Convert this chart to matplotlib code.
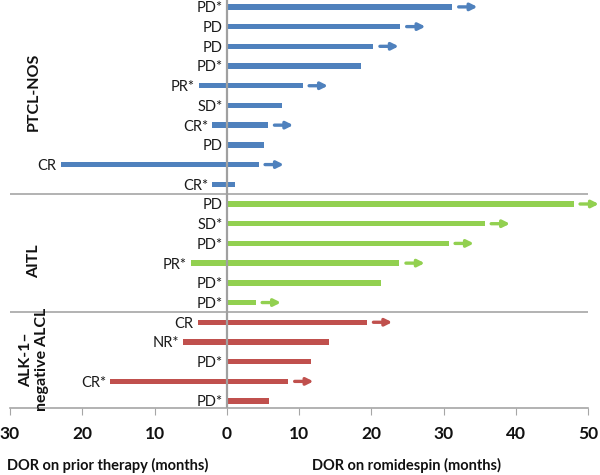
import numpy as np
import matplotlib
matplotlib.use('Agg')
import matplotlib.pyplot as plt
import matplotlib.transforms as mtransforms

plt.rcParams['font.family'] = ['Lato', 'DejaVu Sans']

# data (months)
groups = ['PTCL-NOS', 'AITL', 'ALK-1\u2013\nnegative ALCL']
group_sizes = [10, 6, 5]
group_colors = ['#4F81BD', '#92D050', '#C0504D']
responses = ['PD*', 'PD', 'PD', 'PD*', 'PR*', 'SD*', 'CR*', 'PD', 'CR', 'CR*',
             'PD', 'SD*', 'PD*', 'PR*', 'PD*', 'PD*',
             'CR', 'NR*', 'PD*', 'CR*', 'PD*']
prior = [0, 0, 0, 0, 3.9, 0, 2.0, 0, 23.0, 2.0,
         0, 0, 0, 5.0, 0, 0,
         4.0, 6.0, 0, 16.1, 0]
romi = [31.2, 24.0, 20.3, 18.6, 10.5, 7.6, 5.7, 5.2, 4.4, 1.2,
        48.0, 35.7, 30.7, 23.9, 21.4, 4.0,
        19.4, 14.2, 11.6, 8.5, 5.8]
ongoing = [1, 1, 1, 0, 1, 0, 1, 0, 1, 0,
           1, 1, 1, 1, 0, 1,
           1, 0, 0, 1, 0]
xticks = [-30, -20, -10, 0, 10, 20, 30, 40, 50]
xticklabels = ['30', '20', '10', '0', '10', '20', '30', '40', '50']

fig = plt.figure(figsize=(6, 4.75), dpi=100)
ax = fig.add_axes([10/600, 67/475, 578/600, 408/475])

rows = np.arange(len(romi))
colors = []
for c, n in zip(group_colors, group_sizes):
    colors += [c] * n

bh = 0.27
ax.barh(rows, romi, height=bh, color=colors, zorder=2)
ax.barh(rows, [-p for p in prior], height=bh, color=colors, zorder=2)

gap, alen = 0.9, 2.6
for i in rows:
    if ongoing[i]:
        ax.annotate('', xy=(romi[i] + gap + alen, i), xytext=(romi[i] + gap, i),
                    arrowprops=dict(arrowstyle='-|>,head_length=0.4,head_width=0.2',
                                    color=colors[i], lw=2.4, shrinkA=0, shrinkB=0),
                    annotation_clip=False, zorder=3)
    ax.annotate(responses[i], xy=(-prior[i], i), xytext=(-3, -1),
                textcoords='offset points', ha='right', va='center',
                fontsize=10.5, color='#1a1a1a')

# group separators and zero line
ax.axvline(0, color='#A0A0A0', lw=1.6, zorder=4)
for b in np.cumsum(group_sizes)[:-1]:
    ax.axhline(b - 0.5, color='#A6A6A6', lw=1.2, zorder=1)

# group names
trans = mtransforms.blended_transform_factory(ax.transAxes, ax.transData)
ycent = [4.3, 12.9, 17.9]
for g, y in zip(groups, ycent):
    ax.text(0.041, y, g, transform=trans, rotation=90, ha='center', va='center',
            fontsize=11.5, fontweight='bold', color='#111111', multialignment='center',
            linespacing=1.15)

ax.set_xlim(-30, 50)
ax.set_ylim(20.35, -0.35)
ax.set_xticks(xticks)
ax.set_xticklabels(xticklabels, fontsize=12.5, fontweight='bold', color='#111111')
ax.set_yticks([])
ax.tick_params(axis='x', direction='out', length=5, color='#A6A6A6', pad=8)
for s in ['top', 'right', 'left']:
    ax.spines[s].set_visible(False)
ax.spines['bottom'].set_color('#A6A6A6')
ax.spines['bottom'].set_linewidth(1.2)

fig.text(7/600, 1 - 465/475, 'DOR on prior therapy (months)', ha='left', va='center',
         fontsize=10.5, fontweight='bold', color='#111111')
fig.text(406/600, 1 - 465/475, 'DOR on romidespin (months)', ha='center', va='center',
         fontsize=10.5, fontweight='bold', color='#111111')

fig.savefig('out.png', dpi=100)
